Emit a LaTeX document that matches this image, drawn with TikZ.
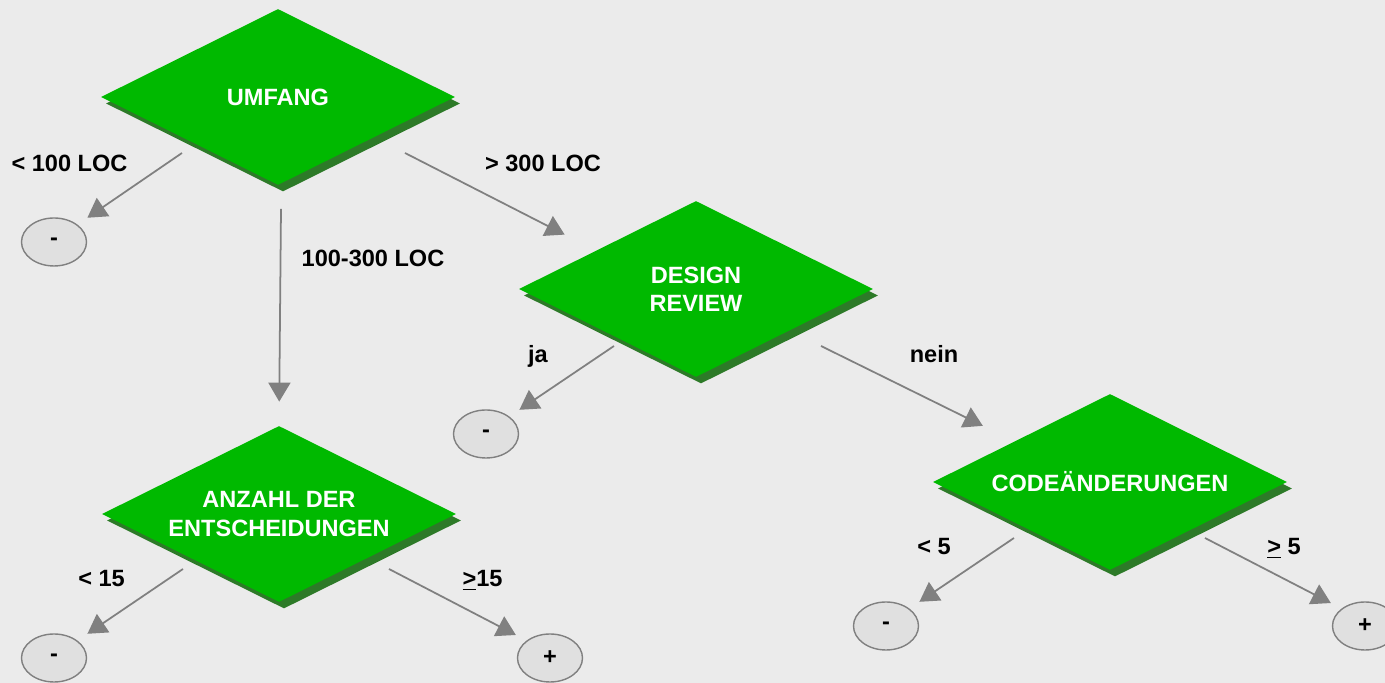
\documentclass[tikz,border=0pt]{standalone}
\usepackage{fontspec}
\setmainfont{Liberation Sans}
\usepackage{tikz}
\usetikzlibrary{shapes.geometric,arrows.meta,shadows}

\definecolor{bggray}{RGB}{235,235,235}
\definecolor{boxgreen}{RGB}{0,185,0}
\definecolor{shadegreen}{RGB}{45,122,40}
\definecolor{ovalfill}{RGB}{224,224,224}
\definecolor{linegray}{RGB}{128,128,128}

\begin{document}
\begin{tikzpicture}[
        font=\fontsize{13.4}{16}\selectfont\bfseries,
        decision/.style={diamond, fill=boxgreen, text=white, align=center,
            inner sep=0pt, shape aspect=2, minimum width=7.08cm, minimum height=3.52cm,
            general shadow={fill=shadegreen, shadow xshift=.1cm, shadow yshift=-.13cm}},
        leaf/.style={ellipse, draw=linegray, fill=ovalfill, line width=.8pt,
            minimum width=1.3cm, minimum height=.96cm, inner sep=0pt},
        lbl/.style={text height=.34cm, text depth=0pt, inner sep=0pt},
        arr/.style={draw=linegray, line width=1pt,
            -{Triangle[length=.38cm,width=.44cm,fill=linegray]}, shorten >=.24cm}
    ]
                \fill[bggray] (0,0) rectangle (27.7,13.66);
                \useasboundingbox (0,0) rectangle (27.7,13.66);

                \node[decision] (umfang) at (5.56,11.72)  {UMFANG};
                \node[decision] (design) at (13.92,7.88)  {DESIGN\\REVIEW};
                \node[decision] (anzahl) at (5.58,3.38)   {ANZAHL DER\\ENTSCHEIDUNGEN};
                \node[decision] (code)   at (22.20,4.02)  {CODEÄNDERUNGEN};

                \node[leaf] (um) at (1.08,8.82)  {-};
                \node[leaf] (dm) at (9.72,4.98)  {-};
                \node[leaf] (am) at (1.08,0.50)  {-};
                \node[leaf] (ap) at (11.00,0.50) {+};
                \node[leaf] (cm) at (17.72,1.14) {-};
                \node[leaf] (cp) at (27.30,1.14) {+};

                \node[lbl] (lt100)  at (1.39,10.40)  {< 100 LOC};
                \node[lbl] (lmid)   at (7.46,8.49)   {100-300 LOC};
                \node[lbl] (lgt300) at (10.86,10.40) {> 300 LOC};
                \node[lbl] (lja)    at (10.76,6.58)  {ja};
                \node[lbl] (lnein)  at (18.68,6.58)  {nein};
                \node[lbl] (llt15)  at (2.03,2.09)   {< 15};
                \node[lbl] (lge15)  at (9.65,2.09)   {\underline{>}15};
                \node[lbl] (llt5)   at (18.68,2.73)  {< 5};
                \node[lbl] (lge5)   at (25.68,2.73)  {\underline{>} 5};

                \coordinate (u1) at (3.64,10.60);
                \coordinate (u2) at (5.62,9.48);
                \coordinate (u3) at (8.10,10.60);
                \coordinate (d1) at (12.28,6.74);
                \coordinate (d2) at (16.42,6.74);
                \coordinate (a1) at (3.66,2.28);
                \coordinate (a2) at (7.78,2.28);
                \coordinate (c1) at (20.28,2.90);
                \coordinate (c2) at (24.10,2.90);

                \draw[arr] (u1) -- (um.north east);
                \draw[arr, shorten >=.48cm] (u2) -- (anzahl.north);
                \draw[arr, shorten >=.7cm]  (u3) -- (design.159);
                \draw[arr] (d1) -- (dm.north east);
                \draw[arr, shorten >=.7cm]  (d2) -- (code.157);
                \draw[arr] (a1) -- (am.north east);
                \draw[arr] (a2) -- (ap.north west);
                \draw[arr] (c1) -- (cm.north east);
                \draw[arr] (c2) -- (cp.north west);
            \end{tikzpicture}
\end{document}
